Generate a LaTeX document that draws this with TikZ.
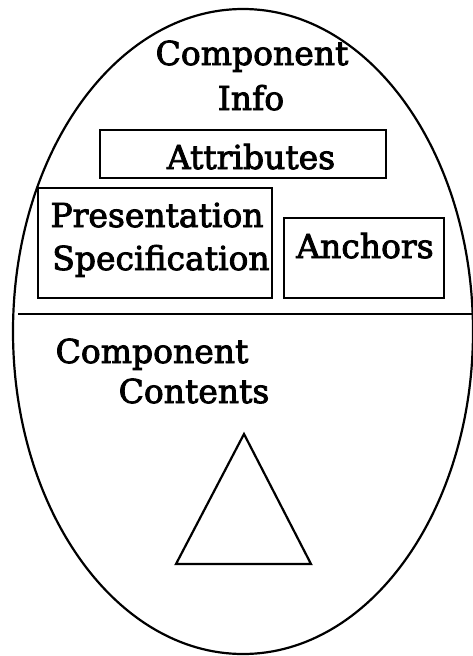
\documentclass[tikz,border=0pt]{standalone}
\usepackage{fontspec}
\setmainfont{DejaVu Serif}
\newfontfamily\lblfont{DejaVu Serif}[FakeBold=2.6]
\begin{document}
\begin{tikzpicture}[x=1pt,y=-1pt,
  outline/.style={draw=black,line width=2.2pt},
  box/.style={outline},
  lbl/.style={inner sep=0pt,anchor=base,font=\lblfont\fontsize{33}{40}\selectfont}]
\useasboundingbox (0,0) rectangle (472,656);
\fill[white] (0,0) rectangle (472,656);

% outer component ellipse
\draw[outline] (243,331.5) ellipse [x radius=230, y radius=322.5];

% info section
\node[lbl] (ci1) at (252,65) {Component};
\node[lbl] (ci2) at (251,110) {Info};

\draw[box] (100,130) rectangle (386,178);
\node[lbl] (attr) at (251,169) {Attributes};

\draw[box] (38,188) rectangle (272,298);
\node[lbl] (pres1) at (157,227) {Presentation};
\node[lbl] (pres2) at (161,270) {Specification};

\draw[box] (284,218) rectangle (444,298);
\node[lbl] (anch) at (365,258) {Anchors};

% divider between info and contents
\coordinate (divL) at (18,314);
\coordinate (divR) at (472,314);
\draw[outline] (divL) -- (divR);

% contents section
\node[lbl] (cc1) at (152,363) {Component};
\node[lbl] (cc2) at (194,403) {Contents};

\coordinate (triTop) at (244,434);
\coordinate (triL) at (176,564);
\coordinate (triR) at (311,564);
\draw[outline,line join=miter] (triTop) -- (triR) -- (triL) -- cycle;
\end{tikzpicture}
\end{document}
